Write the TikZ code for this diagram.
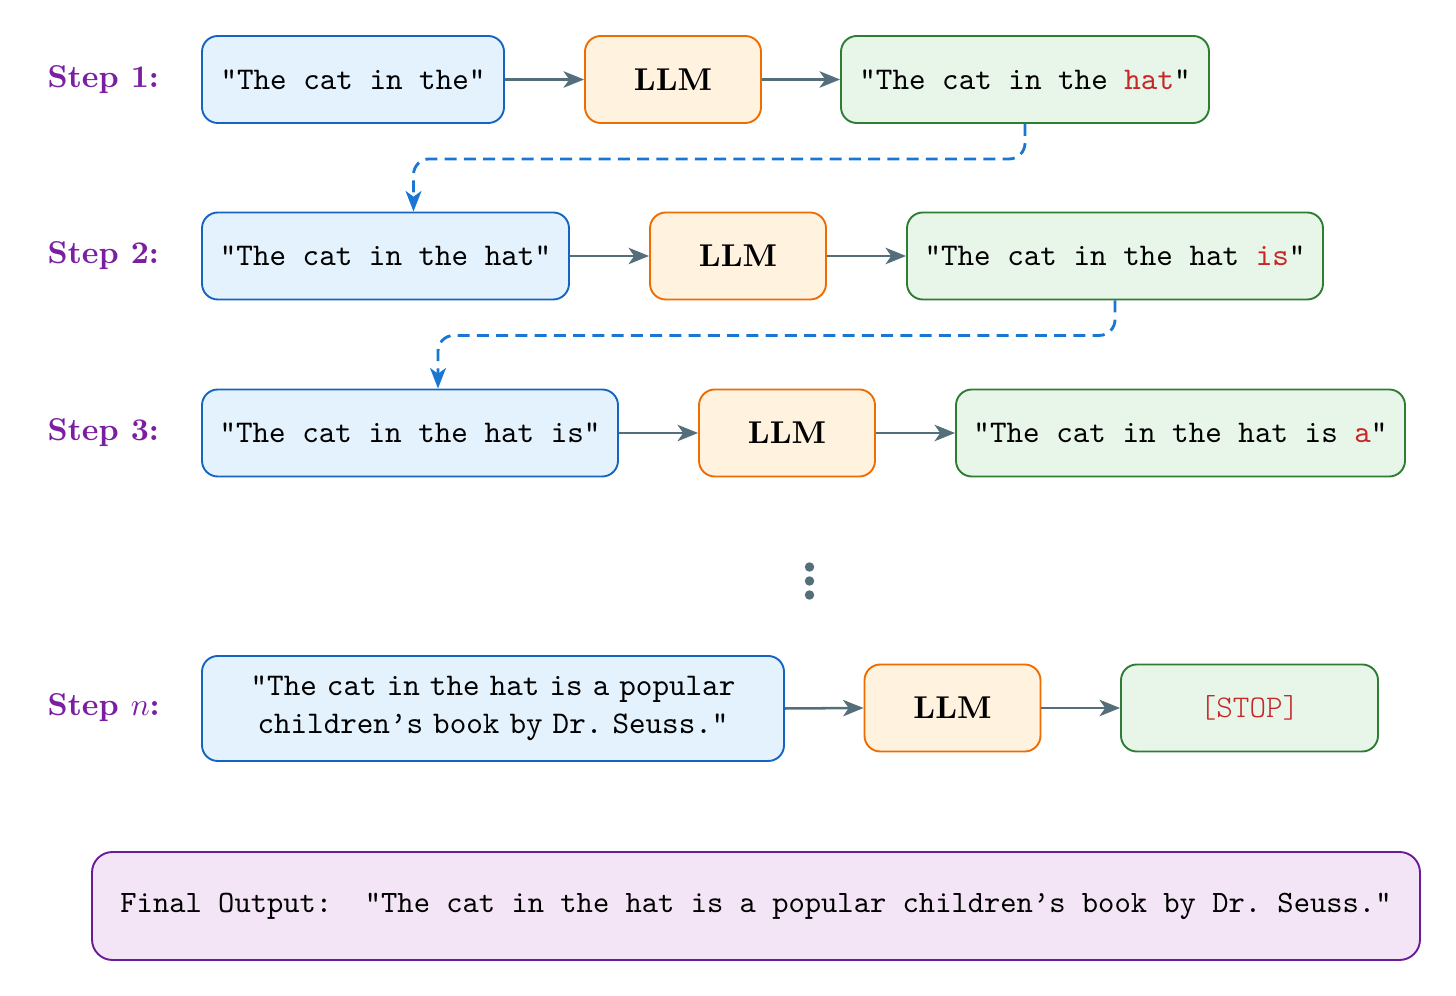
\documentclass[tikz,border=0pt]{standalone}
\usepackage{fontspec}
\usetikzlibrary{arrows.meta,calc}
\definecolor{inFill}{HTML}{E3F2FD}
\definecolor{inDraw}{HTML}{1565C0}
\definecolor{llmFill}{HTML}{FFF3E0}
\definecolor{llmDraw}{HTML}{EF6C00}
\definecolor{outFill}{HTML}{E8F5E9}
\definecolor{outDraw}{HTML}{2E7D32}
\definecolor{finFill}{HTML}{F3E5F5}
\definecolor{finDraw}{HTML}{6A1B9A}
\definecolor{stepCol}{HTML}{7B1FA2}
\definecolor{tokCol}{HTML}{C62828}
\definecolor{arrCol}{HTML}{546E7A}
\definecolor{dashCol}{HTML}{1976D2}
\newcommand\narrowspaces{\spaceskip=3.2pt\relax\xspaceskip=3.2pt\relax}
\newcommand\finalfont{\ttfamily\fontsize{9.84}{12}\selectfont}
\begin{document}
\begin{tikzpicture}[x=0.317pt,y=-0.317pt,
  box/.style={rounded corners=5pt, line width=0.6pt, inner sep=0pt, minimum height=87*0.317pt, font=\ttfamily},
  inbox/.style={box, fill=inFill, draw=inDraw},
  llmbox/.style={box, fill=llmFill, draw=llmDraw, minimum width=176*0.317pt, font=\bfseries},
  outbox/.style={box, fill=outFill, draw=outDraw},
  finbox/.style={box, fill=finFill, draw=finDraw, rounded corners=6.5pt, font=\finalfont},
  steplbl/.style={anchor=base west, text=stepCol, font=\bfseries, inner sep=0pt},
  flow/.style={-{Stealth[length=6.5pt,width=5.2pt,inset=1.8pt]}, line width=0.8pt, draw=arrCol},
  loopback/.style={-{Stealth[length=6.5pt,width=5pt,inset=1.8pt]}, line width=0.9pt, draw=dashCol, dash pattern=on 3.8pt off 2.3pt, rounded corners=5pt},
  dot/.style={circle, fill=arrCol, inner sep=0pt, minimum size=3pt}
]
\useasboundingbox (0,0) rectangle (1456,996);

% Step labels
\node[steplbl] (s1) at (47,87.5) {Step 1:};
\node[steplbl] (s2) at (47,264) {Step 2:};
\node[steplbl] (s3) at (47,441) {Step 3:};
\node[steplbl] (sn) at (47,716) {Step $n$:};

% Row 1
\node[inbox, minimum width=302*0.317pt] (in1) at (353,79.5) {"The cat in the"};
\node[llmbox] (llm1) at (673,79.5) {LLM};
\node[outbox, minimum width=368*0.317pt] (out1) at (1025,79.5) {"The cat in the \textcolor{tokCol}{hat}"};

% Row 2
\node[inbox, minimum width=367*0.317pt] (in2) at (385.5,256) {"The cat in the hat"};
\node[llmbox] (llm2) at (738,256) {LLM};
\node[outbox, minimum width=416*0.317pt] (out2) at (1115,256) {"The cat in the hat \textcolor{tokCol}{is}"};

% Row 3
\node[inbox, minimum width=416*0.317pt] (in3) at (410,433) {"The cat in the hat is"};
\node[llmbox] (llm3) at (787,433) {LLM};
\node[outbox, minimum width=449*0.317pt] (out3) at (1180.5,433) {"The cat in the hat is \textcolor{tokCol}{a}"};

% dots
\node[dot] (d1) at (809.5,567) {};
\node[dot] (d2) at (809.5,581) {};
\node[dot] (d3) at (809.5,595) {};

% Row n
\node[inbox, minimum width=582*0.317pt, minimum height=105*0.317pt, align=center,
      font=\ttfamily\narrowspaces] (inn) at (493,708.5)
      {"The cat in the hat is a popular\\children’s book by Dr.\ Seuss."};
\node[llmbox] (llmn) at (952.5,708) {LLM};
\node[outbox, minimum width=257*0.317pt] (outn) at (1249.5,708) {\fontseries{l}\selectfont\textcolor{tokCol}{[STOP]}};

% Final
\node[finbox, minimum width=1328*0.317pt, minimum height=108*0.317pt] (fin) at (756,906) {Final Output:\ \ "The cat in the hat is a popular children’s book by Dr.\ Seuss."};

% arrows
\draw[flow] (in1) -- (llm1);
\draw[flow] (llm1) -- (out1);
\draw[flow] (in2) -- (llm2);
\draw[flow] (llm2) -- (out2);
\draw[flow] (in3) -- (llm3);
\draw[flow] (llm3) -- (out3);
\draw[flow] (inn.east) -- (llmn.west);
\draw[flow] (llmn) -- (outn);

% loop-back dashed
\draw[loopback] (out1.south) -- ++(0,35) -| ($(in2.north)+(28,0)$);
\draw[loopback] (out2.south) -- ++(0,35) -| ($(in3.north)+(28,0)$);
\end{tikzpicture}
\end{document}
